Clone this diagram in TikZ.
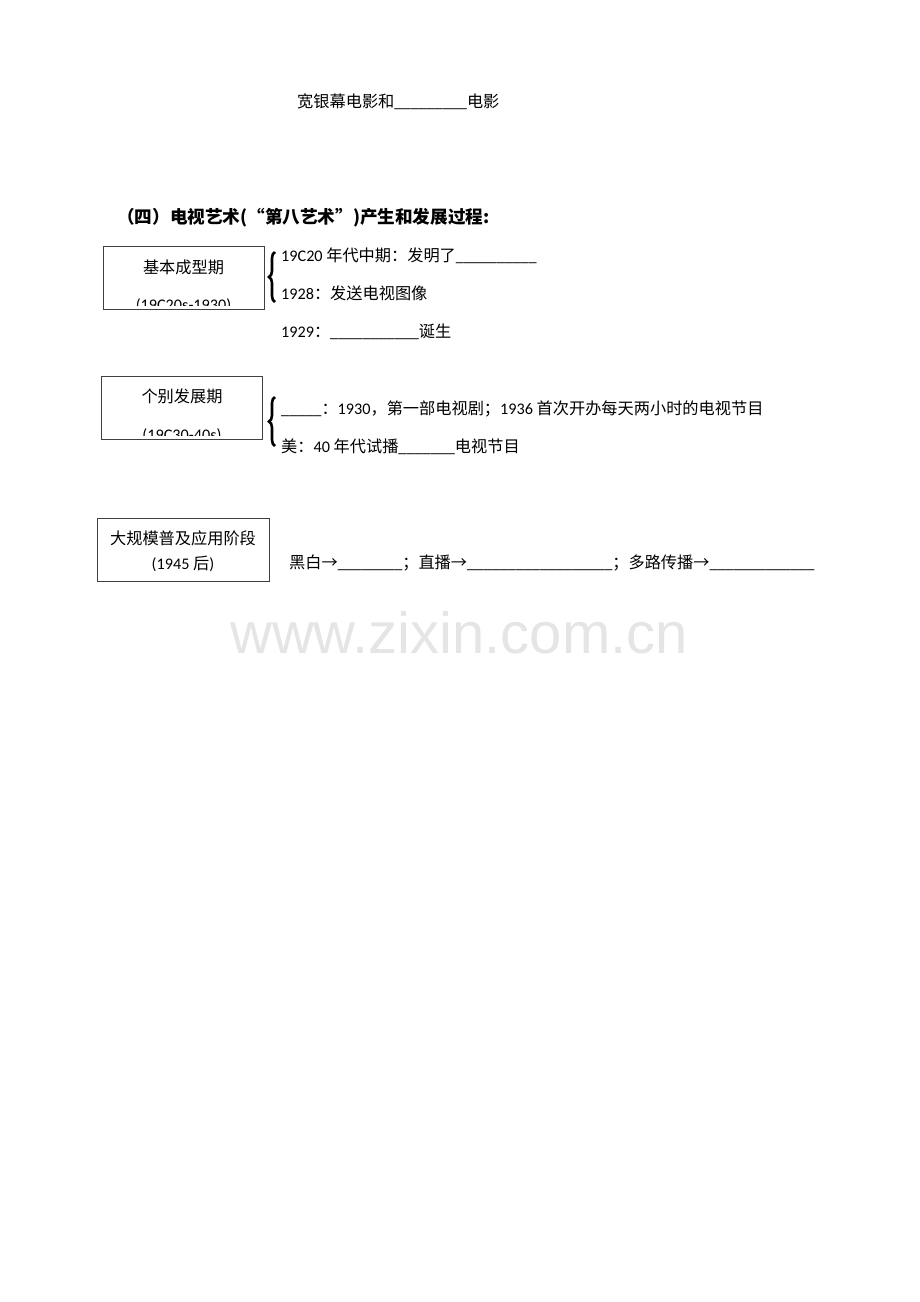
\documentclass[tikz,border=0pt]{standalone}
\usepackage{fontspec}
\setmainfont{Carlito}
\newfontfamily\cjk{Noto Sans CJK SC}
\newfontfamily\wmfont{Liberation Sans}
\usetikzlibrary{decorations.pathreplacing}
\tikzset{stage/.style = {rectangle, draw=black!75, line width=0.8pt, minimum width=161pt, minimum height=63pt, inner sep=0pt},
	txt/.style   = {anchor=base west, inner sep=0pt, font=\fontsize{16.2}{19}\selectfont},
	boxtxt/.style = {anchor=base, inner sep=0pt, font=\fontsize{16.2}{19}\selectfont},
	curly/.style = {draw, line width=2.6pt, decorate, decoration={brace, amplitude=6pt}},
	wmark/.style = {inner sep=0pt, text=black!10, font=\wmfont\fontsize{58}{60}\selectfont}
}

\begin{document}
\begin{tikzpicture}[x=1pt, y=-1pt]
		\useasboundingbox (0,0) rectangle (920,1302);
		\node [txt] (film) at (297,107) {{\cjk 宽银幕电影和}\_\_\_\_\_\_\_\_\_{\cjk 电影}};
		\node [txt, font=\fontsize{17.6}{20}\selectfont\cjk\bfseries] (title) at (117,223) {（四）电视艺术(“第八艺术”)产生和发展过程:};
		%% stage 1
		\node [stage] (st1) at (183.5,277.5) {};
		\node [boxtxt] (st1a) at (183.5,273) {\cjk 基本成型期};
		\begin{scope}
			\clip (st1.north west) rectangle ([yshift=4pt]st1.south east);
			\node [boxtxt, anchor=north] (st1b) at (183.5,298.5) {(19C20s-1930)};
		\end{scope}
		\path [curly] (275,302) -- (275,252);
		\node [txt] (l1) at (281,261) {19C20 {\cjk 年代中期：发明了}\_\_\_\_\_\_\_\_\_\_};
		\node [txt] (l2) at (281,299) {1928{\cjk ：发送电视图像}};
		\node [txt] (l3) at (281,337) {1929{\cjk ：}\_\_\_\_\_\_\_\_\_\_\_{\cjk 诞生}};
		%% stage 2
		\node [stage] (st2) at (182,407.5) {};
		\node [boxtxt] (st2a) at (182,402) {\cjk 个别发展期};
		\begin{scope}
			\clip (st2.north west) rectangle ([yshift=4pt]st2.south east);
			\node [boxtxt, anchor=north] (st2b) at (182,428.5) {(19C30-40s)};
		\end{scope}
		\path [curly] (275,446) -- (275,397);
		\node [txt] (l4) at (281,414) {\_\_\_\_\_{\cjk ：}1930{\cjk ，第一部电视剧；}1936 {\cjk 首次开办每天两小时的电视节目}};
		\node [txt] (l5) at (281,452) {{\cjk 美：}40 {\cjk 年代试播}\_\_\_\_\_\_\_{\cjk 电视节目}};
		%% stage 3
		\node [stage, minimum width=172pt] (st3) at (183,549.5) {};
		\node [boxtxt] (st3a) at (183,544) {\cjk 大规模普及应用阶段};
		\node [boxtxt] (st3b) at (183,569) {(1945 {\cjk 后})};
		\node [txt] (l6) at (289,568) {{\cjk 黑白→}\_\_\_\_\_\_\_\_{\cjk ；直播→}\_\_\_\_\_\_\_\_\_\_\_\_\_\_\_\_\_\_{\cjk ；多路传播→}\_\_\_\_\_\_\_\_\_\_\_\_\_};
		\node [wmark] (wm) at (459,633) {www.zixin.com.cn};
	\end{tikzpicture}
\end{document}
